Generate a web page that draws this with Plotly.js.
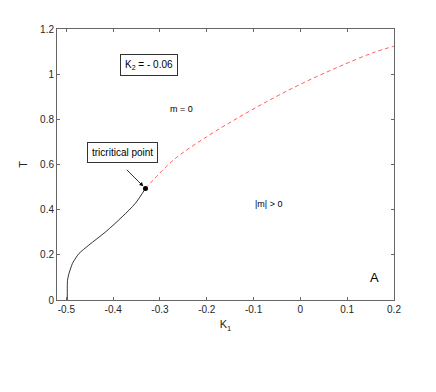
<!DOCTYPE html>
<html>
<head>
<meta charset="utf-8">
<script src="https://cdn.plot.ly/plotly-3.0.1.min.js"></script>
<style>body{margin:0;background:#fff}#chart{width:436px;height:392px}</style>
</head>
<body>
<div id="chart"></div>
<script>
// Second-order transition line (solid black)
const secondK1 = [-0.498, -0.498, -0.4975, -0.4945, -0.4905, -0.487, -0.480, -0.473, -0.452, -0.416, -0.381, -0.3526, -0.331];
const secondT  = [0.0, 0.05, 0.087, 0.117, 0.142, 0.162, 0.186, 0.206, 0.243, 0.302, 0.368, 0.428, 0.494];
// First-order transition line (dashed red)
const firstK1 = [-0.331, -0.271, -0.200, -0.129, -0.058, 0.0128, 0.0836, 0.154, 0.2];
const firstT  = [0.494, 0.620, 0.723, 0.812, 0.894, 0.968, 1.034, 1.094, 1.124];
// Tricritical point
const tcK1 = [-0.331];
const tcT = [0.494];
const xTicks = [-0.5, -0.4, -0.3, -0.2, -0.1, 0, 0.1, 0.2];
const yTicks = [0, 0.2, 0.4, 0.6, 0.8, 1, 1.2];

const font = 'Liberation Sans, Arial, Helvetica, sans-serif';
const data = [
  {x: secondK1, y: secondT, mode: 'lines', line: {color: '#000', width: 0.8, shape: 'spline', smoothing: 0.8}, hoverinfo: 'skip'},
  {x: firstK1, y: firstT, mode: 'lines', line: {color: '#ff3333', width: 0.8, dash: '4px,3px', shape: 'spline', smoothing: 1}, hoverinfo: 'skip'},
  {x: tcK1, y: tcT, mode: 'markers', marker: {color: '#000', size: 5}, hoverinfo: 'skip'}
];
const axisCommon = {
  showgrid: false, zeroline: false, showline: true, linecolor: '#666', linewidth: 1,
  mirror: 'allticks', ticks: 'inside', ticklen: 3, tickcolor: '#666', tickwidth: 1,
  tickfont: {family: font, size: 10, color: '#262626'}
};
const layout = {
  width: 436, height: 392,
  margin: {l: 57, r: 42, t: 29, b: 92},
  paper_bgcolor: '#fff', plot_bgcolor: '#fff',
  showlegend: false,
  font: {family: font, color: '#000'},
  xaxis: Object.assign({}, axisCommon, {
    range: [-0.52, 0.2], tickvals: xTicks, ticktext: xTicks.map(String),
    title: {text: 'K<sub>1</sub>', font: {family: font, size: 11, color: '#262626'}, standoff: 6}
  }),
  yaxis: Object.assign({}, axisCommon, {
    range: [0, 1.2], tickvals: yTicks, ticktext: yTicks.map(String),
    title: {text: 'T', font: {family: font, size: 11, color: '#262626'}, standoff: 10}
  }),
  annotations: [
    {x: -0.323, y: 1.04, xref: 'x', yref: 'y', text: 'K<sub>2</sub> = - 0.06', showarrow: false,
     font: {family: font, size: 10, color: '#000'}, bordercolor: '#333', borderwidth: 1, borderpad: 4, bgcolor: '#fff'},
    {x: -0.255, y: 0.845, xref: 'x', yref: 'y', text: 'm = 0', showarrow: false,
     font: {family: font, size: 9, color: '#000'}},
    {x: -0.069, y: 0.425, xref: 'x', yref: 'y', text: '|m| > 0', showarrow: false,
     font: {family: font, size: 9, color: '#000'}},
    {x: 0.158, y: 0.099, xref: 'x', yref: 'y', text: 'A', showarrow: false,
     font: {family: font, size: 13, color: '#000'}},
    {x: -0.381, y: 0.653, xref: 'x', yref: 'y', text: 'tricritical point', showarrow: false,
     font: {family: font, size: 10, color: '#000'}, bordercolor: '#333', borderwidth: 1, borderpad: 4, bgcolor: '#fff'},
    {x: tcK1[0], y: tcT[0], xref: 'x', yref: 'y', ax: -0.374, ay: 0.583, axref: 'x', ayref: 'y',
     text: '', showarrow: true, arrowhead: 2, arrowsize: 1, arrowwidth: 0.8, arrowcolor: '#000', standoff: 3}
  ]
};
Plotly.newPlot('chart', data, layout, {displayModeBar: false, staticPlot: true});
</script>
</body>
</html>
